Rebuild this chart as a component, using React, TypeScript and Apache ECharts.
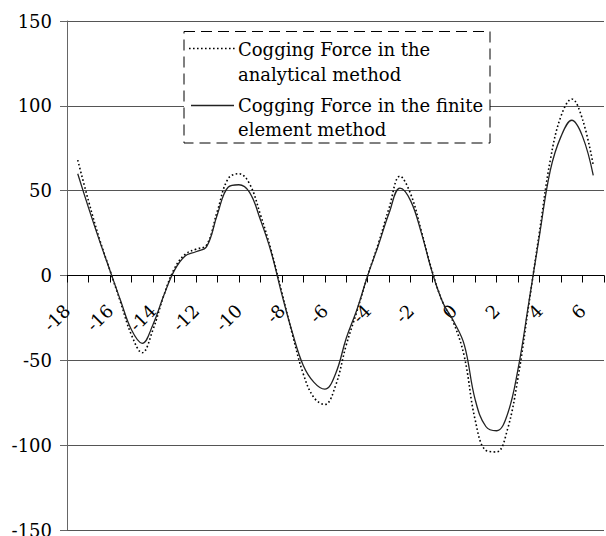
import React, { useEffect, useRef } from "react";
import * as echarts from "echarts";

const positions = [
  -17.5, -17, -16.5, -16, -15.5, -15, -14.5, -14, -13.5, -13, -12.5, -12, -11.5, -11,
  -10.5, -10, -9.5, -9, -8.5, -8, -7.5, -7, -6.5, -6, -5.5, -5, -4.5, -4, -3.5, -3,
  -2.5, -2, -1.5, -1, -0.5, 0, 0.5, 1, 1.5, 2, 2.5, 3, 3.5, 4, 4.5, 5, 5.5, 6, 6.5,
];

const analyticalForce = [
  68, 44, 22, 3, -16, -35, -45.5, -32, -12, 4, 12.5, 15.5, 18, 38,
  57, 60, 54, 36, 15, -10, -35, -58, -72, -76, -65, -41, -21, 0, 19, 40,
  58.5, 48, 26, 2.5, -16, -28, -48, -85, -103, -104, -91, -60, -17, 26, 68, 94, 104, 92, 65,
];

const femForce = [
  60, 40, 21, 3, -15, -32, -40, -29, -12, 3, 11.5, 14, 17, 36,
  52, 53.5, 49, 33, 14, -11, -34, -53, -63, -67, -58, -37, -20, 0, 18, 37,
  51.5, 44, 25, 2, -16, -27, -41, -73, -89, -91.5, -82, -55, -16, 24, 62, 82, 91.5, 82, 59,
];

const yTicks = { min: -150, max: 150, step: 50 };
const xTicks = { min: -18, max: 7, step: 1 };

const legendLines1 = ["Cogging Force in the", "analytical method"];
const legendLines2 = ["Cogging Force in the finite", "element method"];

const FONT = "DejaVu Serif";

export default function App() {
  const ref = useRef<HTMLDivElement>(null);
  useEffect(() => {
    if (!ref.current) return;
    const chart = echarts.init(ref.current, null, { renderer: "svg" });
    const fs = 18;
    const textEl = (t: string, x: number, y: number) => ({
      type: "text",
      z: 101,
      x,
      y,
      style: {
        text: t,
        fill: "#000",
        fontSize: fs,
        fontFamily: FONT,
        align: "left",
        verticalAlign: "middle",
      },
    });
    const xBase = {
      type: "value",
      min: xTicks.min,
      max: xTicks.max,
      interval: xTicks.step,
      splitLine: { show: false },
    };
    chart.setOption({
      animation: false,
      backgroundColor: "#fff",
      textStyle: { fontFamily: FONT },
      grid: {
        left: 67,
        right: 2,
        top: 21,
        bottom: 6,
        containLabel: false,
        outerBoundsMode: "none",
      },
      xAxis: [
        {
          ...xBase,
          axisLine: { show: true, onZero: true, lineStyle: { color: "#000", width: 1 } },
          axisTick: { show: true, inside: false, length: 7, lineStyle: { color: "#000" } },
          axisLabel: { show: false },
        },
        {
          ...xBase,
          position: "bottom",
          offset: -254.5,
          axisLine: { show: false, onZero: false },
          axisTick: { show: false },
          axisLabel: {
            rotate: 45,
            margin: 32,
            color: "#000",
            fontSize: fs,
            fontFamily: FONT,
            formatter: (v: number) => (Math.round(v) % 2 === 0 ? String(v) : ""),
          },
        },
      ],
      yAxis: {
        type: "value",
        min: yTicks.min,
        max: yTicks.max,
        interval: yTicks.step,
        axisLine: { show: true, onZero: false, lineStyle: { color: "#666", width: 1 } },
        axisTick: { show: true, inside: false, length: 7, lineStyle: { color: "#666" } },
        axisLabel: { color: "#000", fontSize: fs, fontFamily: FONT, margin: 15 },
        splitLine: { show: true, lineStyle: { color: "#555", width: 1 } },
      },
      series: [
        {
          name: "Cogging Force in the analytical method",
          type: "line",
          smooth: 0.4,
          showSymbol: false,
          data: positions.map((x, i) => [x, analyticalForce[i]]),
          lineStyle: { color: "#000", width: 1.6, type: [1.6, 2.4] },
          z: 3,
        },
        {
          name: "Cogging Force in the finite element method",
          type: "line",
          smooth: 0.4,
          showSymbol: false,
          data: positions.map((x, i) => [x, femForce[i]]),
          lineStyle: { color: "#222", width: 1.3 },
          z: 4,
        },
      ],
      graphic: [
        {
          type: "rect",
          z: 100,
          shape: { x: 184, y: 31.5, width: 306, height: 111.5 },
          style: { fill: "#fff", stroke: "#000", lineWidth: 1, lineDash: [11, 6] },
        },
        {
          type: "line",
          z: 101,
          shape: { x1: 189, y1: 48.5, x2: 235, y2: 48.5 },
          style: { stroke: "#000", lineWidth: 1.6, lineDash: [1.6, 2.4] },
        },
        {
          type: "line",
          z: 101,
          shape: { x1: 191, y1: 105.5, x2: 234, y2: 105.5 },
          style: { stroke: "#222", lineWidth: 1.3 },
        },
        textEl(legendLines1[0], 238, 49.5),
        textEl(legendLines1[1], 238, 74.5),
        textEl(legendLines2[0], 238, 105),
        textEl(legendLines2[1], 238, 129.5),
      ],
    });
    return () => chart.dispose();
  }, []);
  return (
    <div
      ref={ref}
      style={{ position: "fixed", left: 0, top: 0, width: 606, height: 536, background: "#fff" }}
    />
  );
}
